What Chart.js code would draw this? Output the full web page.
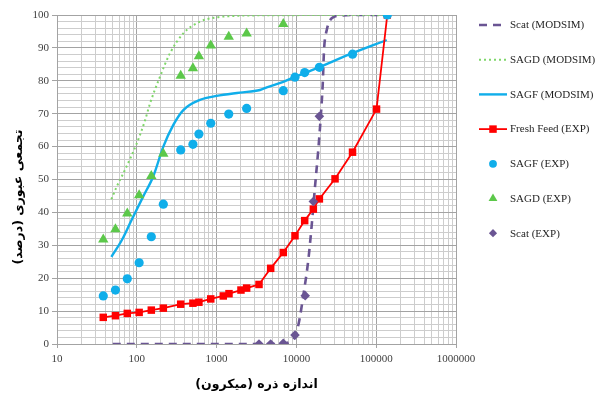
<!DOCTYPE html>
<html>
<head>
<meta charset="utf-8">
<script src="https://cdn.jsdelivr.net/npm/chart.js@4.4.0/dist/chart.umd.min.js"></script>
<style>
  html, body { margin: 0; padding: 0; background: #ffffff; }
  #wrap { width: 599px; height: 396px; }
</style>
</head>
<body>
<div id="wrap"><canvas id="psd" width="599" height="396"></canvas></div>
<script>
// ---- particle size distribution data (size in micron, cumulative passing %) ----
const seriesNames = ['Scat (MODSIM)', 'SAGD (MODSIM)', 'SAGF (MODSIM)', 'Fresh Feed (EXP)', 'SAGF (EXP)', 'SAGD (EXP)', 'Scat (EXP)'];

const scatModelSize = [50, 100, 300, 1000, 3000, 6000, 8500, 9700, 10900, 12200, 14100, 15500, 17100, 18800, 20200, 21400, 22200, 24000, 27700, 35200, 60000, 137700];
const scatModelPass = [0, 0, 0, 0, 0, 0, 0.8, 2.5, 7.3, 14.7, 25.5, 35.7, 47.8, 59.0, 69.1, 79.2, 89.4, 95.4, 99.0, 99.8, 100, 100];

const sagdModelSize = [48, 56, 71, 100, 127, 146, 195, 261, 383, 619, 1000, 1620, 3500, 137700];
const sagdModelPass = [44.0, 47.8, 52.9, 61.0, 68.0, 73.0, 81.2, 88.4, 94.4, 98.0, 99.3, 99.7, 99.9, 100];

const sagfModelSize = [48, 65, 86, 120, 161, 215, 287, 383, 619, 1000, 1960, 3500, 4250, 6850, 9600, 17900, 47000, 135500];
const sagfModelPass = [26.5, 31.6, 37.7, 44.8, 51.0, 60.0, 66.6, 71.1, 74.2, 75.4, 76.4, 77.2, 78.0, 79.7, 81.2, 83.8, 88.1, 92.4];

const feedSize = [38, 54, 76, 107, 152, 215, 355, 505, 600, 845, 1213, 1430, 2020, 2380, 3400, 4760, 6850, 9600, 12700, 16300, 19400, 30500, 50500, 101000, 137700];
const feedPass = [8.1, 8.6, 9.3, 9.6, 10.3, 10.9, 12.1, 12.4, 12.7, 13.7, 14.6, 15.3, 16.4, 17.0, 18.1, 23.0, 27.8, 32.9, 37.5, 41.0, 44.1, 50.2, 58.3, 71.4, 100];

const sagfExpSize = [38, 54, 76, 107, 152, 215, 355, 505, 600, 845, 1420, 2380, 6850, 9600, 12700, 19400, 50500, 137700];
const sagfExpPass = [14.6, 16.4, 19.8, 24.7, 32.6, 42.5, 59.0, 60.7, 63.8, 67.1, 69.9, 71.6, 77.0, 81.1, 82.5, 84.1, 88.1, 100];

const sagdExpSize = [38, 54, 76, 107, 152, 215, 355, 505, 600, 845, 1420, 2380, 6850];
const sagdExpPass = [31.8, 34.9, 39.7, 45.2, 51.1, 57.8, 81.5, 83.8, 87.5, 90.7, 93.4, 94.4, 97.3];

const scatExpSize = [3400, 4760, 6850, 9600, 12900, 16300, 19400];
const scatExpPass = [0, 0, 0.2, 2.7, 14.7, 43.3, 69.2];

const xTickDecades = [10, 100, 1000, 10000, 100000, 1000000];
const yTickLabels = [0, 10, 20, 30, 40, 50, 60, 70, 80, 90, 100];

const xTitle = 'اندازه ذره (میکرون)';
const yTitle = 'تجمعی عبوری (درصد)';

// ---- helpers ----
const pairs = (xs, ys) => xs.map((x, i) => ({ x: x, y: ys[i] }));
const isDecade = (v) => Math.abs(Math.log10(v) - Math.round(Math.log10(v))) < 1e-9;

const MAJOR_GRID = '#a3a3a3';
const MINOR_GRID = '#cdcdcd';
const AXIS_TEXT = '#404040';
const SERIF = '"Liberation Serif", "Times New Roman", serif';

// minor log ticks: 1..9 x 10^n
function logTicks() {
  const out = [];
  for (let d = 0; d < xTickDecades.length; d++) {
    const base = xTickDecades[d];
    if (d === xTickDecades.length - 1) { out.push({ value: base }); break; }
    for (let m = 1; m <= 9; m++) out.push({ value: m * base });
  }
  return out;
}

function drawMarker(ctx, style, r, x, y) {
  ctx.beginPath();
  if (style === 'circle') {
    ctx.arc(x, y, r, 0, Math.PI * 2);
  } else if (style === 'rect') {
    const s = Math.SQRT1_2 * r;
    ctx.rect(x - s, y - s, 2 * s, 2 * s);
  } else if (style === 'triangle') {
    for (let k = 0; k < 3; k++) {
      const a = k * 2 * Math.PI / 3;
      const px = x + Math.sin(a) * r, py = y - Math.cos(a) * r;
      if (k === 0) ctx.moveTo(px, py); else ctx.lineTo(px, py);
    }
    ctx.closePath();
  } else if (style === 'rectRot') {
    ctx.moveTo(x, y - r); ctx.lineTo(x + r, y); ctx.lineTo(x, y + r); ctx.lineTo(x - r, y);
    ctx.closePath();
  }
  ctx.fill();
}

// legend column on the right side of the plot
const sideLegend = {
  id: 'sideLegend',
  afterDraw(chart) {
    const ctx = chart.ctx;
    const top = 25, step = 34.7, x0 = 479, x1 = 507, tx = 510;
    ctx.save();
    chart.data.datasets.forEach((ds, i) => {
      const y = top + i * step;
      if (ds.showLine !== false) {
        ctx.save();
        ctx.strokeStyle = ds.borderColor;
        ctx.lineWidth = ds.borderWidth;
        ctx.setLineDash(ds.borderDash || []);
        ctx.beginPath(); ctx.moveTo(x0, y); ctx.lineTo(x1, y); ctx.stroke();
        ctx.restore();
      }
      if (ds.pointRadius > 0) {
        ctx.fillStyle = ds.pointBackgroundColor || ds.backgroundColor;
        drawMarker(ctx, ds.pointStyle, ds.showLine === false ? ds.pointRadius * 0.85 : ds.pointRadius, (x0 + x1) / 2, y);
      }
      ctx.fillStyle = '#1f1f1f';
      ctx.font = '11px ' + SERIF;
      ctx.textAlign = 'left';
      ctx.textBaseline = 'middle';
      ctx.fillText(ds.label, tx, y + 0.5);
    });
    ctx.restore();
  }
};

// axis titles (right-to-left text)
const axisTitles = {
  id: 'axisTitles',
  afterDraw(chart) {
    const ctx = chart.ctx;
    const area = chart.chartArea;
    ctx.save();
    ctx.fillStyle = '#000000';
    ctx.font = 'bold 12.5px "DejaVu Sans", sans-serif';
    ctx.direction = 'rtl';
    ctx.textAlign = 'center';
    ctx.textBaseline = 'middle';
    ctx.fillText(xTitle, (area.left + area.right) / 2, 385);
    ctx.translate(19, 197);
    ctx.rotate(-Math.PI / 2);
    ctx.fillText(yTitle, 0, 0);
    ctx.restore();
  }
};

const whiteBg = {
  id: 'whiteBg',
  beforeDraw(chart) {
    const ctx = chart.ctx;
    ctx.save();
    ctx.fillStyle = '#ffffff';
    ctx.fillRect(0, 0, chart.width, chart.height);
    ctx.restore();
  }
};

const colors = {
  scat: '#6a5593',
  sagdLine: '#7fd66a',
  sagdPoint: '#5cc84a',
  sagf: '#10aeea',
  feed: '#ff0000'
};

new Chart(document.getElementById('psd'), {
  type: 'line',
  data: {
    datasets: [
      {
        label: seriesNames[0], data: pairs(scatModelSize, scatModelPass),
        borderColor: colors.scat, borderWidth: 2.6, borderDash: [8, 6],
        pointRadius: 0, cubicInterpolationMode: 'monotone', order: 7
      },
      {
        label: seriesNames[1], data: pairs(sagdModelSize, sagdModelPass),
        borderColor: colors.sagdLine, borderWidth: 2, borderDash: [2, 3],
        pointRadius: 0, cubicInterpolationMode: 'monotone', order: 6
      },
      {
        label: seriesNames[2], data: pairs(sagfModelSize, sagfModelPass),
        borderColor: colors.sagf, borderWidth: 2.4,
        pointRadius: 0, cubicInterpolationMode: 'monotone', order: 5
      },
      {
        label: seriesNames[3], data: pairs(feedSize, feedPass),
        borderColor: colors.feed, backgroundColor: colors.feed, borderWidth: 1.8,
        pointStyle: 'rect', pointRadius: 5.3, pointBorderWidth: 0,
        pointBackgroundColor: colors.feed, tension: 0, order: 4
      },
      {
        label: seriesNames[4], data: pairs(sagfExpSize, sagfExpPass), showLine: false,
        borderColor: colors.sagf, backgroundColor: colors.sagf,
        pointStyle: 'circle', pointRadius: 4.6, pointBorderWidth: 0,
        pointBackgroundColor: colors.sagf, order: 1
      },
      {
        label: seriesNames[5], data: pairs(sagdExpSize, sagdExpPass), showLine: false,
        borderColor: colors.sagdPoint, backgroundColor: colors.sagdPoint,
        pointStyle: 'triangle', pointRadius: 6, pointBorderWidth: 0,
        pointBackgroundColor: colors.sagdPoint, order: 2
      },
      {
        label: seriesNames[6], data: pairs(scatExpSize, scatExpPass), showLine: false,
        borderColor: colors.scat, backgroundColor: colors.scat,
        pointStyle: 'rectRot', pointRadius: 4.8, pointBorderWidth: 0,
        pointBackgroundColor: colors.scat, order: 3
      }
    ]
  },
  options: {
    responsive: false,
    animation: false,
    events: [],
    layout: { padding: { left: 0, right: 143, top: 15, bottom: 0 } },
    plugins: { legend: { display: false }, tooltip: { enabled: false }, title: { display: false } },
    scales: {
      x: {
        type: 'logarithmic',
        min: xTickDecades[0],
        max: xTickDecades[xTickDecades.length - 1],
        afterBuildTicks: (scale) => { scale.ticks = logTicks(); },
        afterFit: (scale) => { scale.height = 52; },
        border: { display: true, color: MAJOR_GRID, width: 1 },
        grid: {
          color: (c) => (c.tick && isDecade(c.tick.value)) ? MAJOR_GRID : MINOR_GRID,
          tickColor: (c) => (c.tick && isDecade(c.tick.value)) ? MAJOR_GRID : 'rgba(0,0,0,0)',
          tickLength: 4,
          lineWidth: 1
        },
        ticks: {
          autoSkip: false, maxRotation: 0, minRotation: 0, padding: 5,
          color: AXIS_TEXT, font: { family: SERIF, size: 11 },
          callback: (v) => isDecade(v) ? String(Math.round(v)) : ''
        }
      },
      y: {
        type: 'linear',
        min: yTickLabels[0],
        max: yTickLabels[yTickLabels.length - 1],
        afterFit: (scale) => { scale.width = 57; },
        border: { display: true, color: MAJOR_GRID, width: 1 },
        grid: {
          color: (c) => (c.tick && c.tick.value % 10 === 0) ? MAJOR_GRID : MINOR_GRID,
          tickColor: (c) => (c.tick && c.tick.value % 10 === 0) ? MAJOR_GRID : 'rgba(0,0,0,0)',
          tickLength: 5,
          lineWidth: 1
        },
        ticks: {
          stepSize: 2, autoSkip: false, padding: 3,
          color: AXIS_TEXT, font: { family: SERIF, size: 11 },
          callback: (v) => yTickLabels.includes(v) ? String(v) : ''
        }
      }
    }
  },
  plugins: [whiteBg, sideLegend, axisTitles]
});
</script>
</body>
</html>
